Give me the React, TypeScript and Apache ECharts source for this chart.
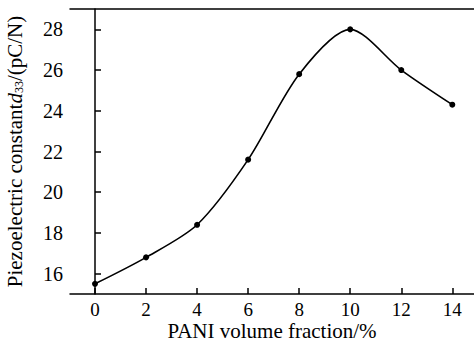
import React, { useEffect, useRef } from "react";
import * as echarts from "echarts";

const xValues = [0, 2, 4, 6, 8, 10, 12, 14];
const d33Values = [15.5, 16.8, 18.4, 21.6, 25.8, 28.0, 26.0, 24.3];
const xTicks = [0, 2, 4, 6, 8, 10, 12, 14];
const yTicks = [16, 18, 20, 22, 24, 26, 28];

const FONT = "Liberation Serif";

export default function App() {
  const ref = useRef<HTMLDivElement>(null);
  useEffect(() => {
    if (!ref.current) return;
    const chart = echarts.init(ref.current, undefined, { renderer: "svg" });
    const axisLineStyle = { color: "#000", width: 1.5 };
    chart.setOption({
      animation: false,
      backgroundColor: "#fff",
      grid: { left: 70, right: 0, top: 9, bottom: 48, containLabel: false, outerBoundsMode: "none" },
      xAxis: [
        {
          type: "value",
          min: -0.98,
          max: 14.85,
          name: "PANI volume fraction/%",
          nameLocation: "middle",
          nameGap: 26,
          nameMoveOverlap: false,
          nameTextStyle: { fontFamily: FONT, fontSize: 21, color: "#000" },
          axisLine: { show: true, lineStyle: axisLineStyle },
          axisTick: { show: true, inside: true, length: 6, customValues: xTicks, lineStyle: axisLineStyle },
          axisLabel: { customValues: xTicks, margin: 6, fontFamily: FONT, fontSize: 19, color: "#000" },
          splitLine: { show: false },
        },
        {
          type: "value",
          position: "top",
          min: -0.98,
          max: 14.85,
          axisLine: { show: true, lineStyle: axisLineStyle },
          axisTick: { show: false },
          axisLabel: { show: false },
          splitLine: { show: false },
        },
      ],
      yAxis: {
        type: "value",
        min: 15,
        max: 29,
        name: "{a|Piezoelectric constant}{i|d}{s|33}{a|/(pC/N)}",
        nameLocation: "middle",
        nameGap: 45,
        nameRotate: 90,
        nameTextStyle: {
          fontFamily: FONT,
          fontSize: 21,
          color: "#000",
          rich: {
            a: { fontFamily: FONT, fontSize: 21, color: "#000" },
            i: { fontFamily: FONT, fontSize: 21, fontStyle: "italic", color: "#000" },
            s: { fontFamily: FONT, fontSize: 12, color: "#000", padding: [9, 0, 0, 0] },
          },
        },
        axisLine: { show: true, lineStyle: axisLineStyle },
        axisTick: { show: true, inside: true, length: 6, customValues: yTicks, lineStyle: axisLineStyle },
        axisLabel: { customValues: yTicks, margin: 7, fontFamily: FONT, fontSize: 20, color: "#000" },
        splitLine: { show: false },
      },
      series: [
        {
          type: "line",
          data: xValues.map((x, i) => [x, d33Values[i]]),
          smooth: 0.28,
          symbol: "circle",
          symbolSize: 6,
          itemStyle: { color: "#000" },
          lineStyle: { color: "#000", width: 1.6 },
        },
      ],
    });
    return () => chart.dispose();
  }, []);
  return <div ref={ref} style={{ width: 474, height: 342, position: "absolute", left: 0, top: 0 }} />;
}
